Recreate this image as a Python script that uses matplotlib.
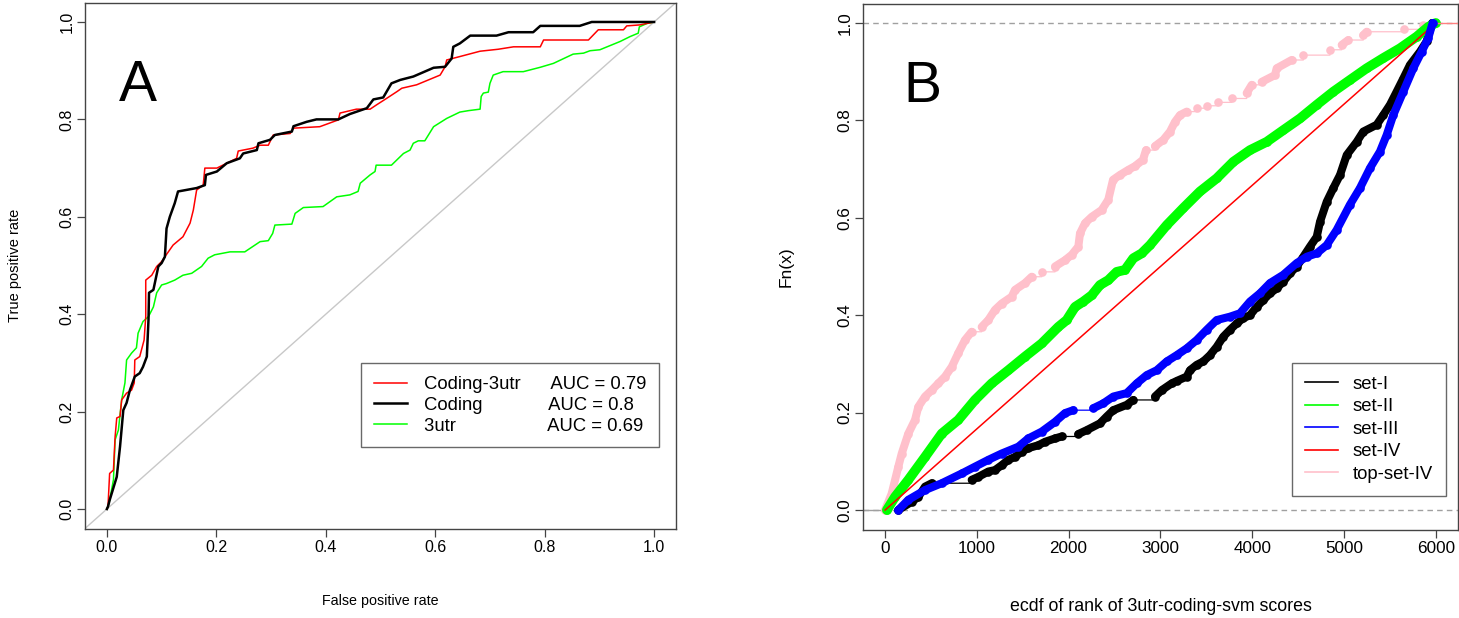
import numpy as np
import matplotlib
matplotlib.use("Agg")
import matplotlib.pyplot as plt
from matplotlib.lines import Line2D

plt.rcParams['font.family'] = ['Liberation Sans', 'DejaVu Sans']

# ---------------- Panel A data (ROC curves) ----------------
coding3utr_fpr = [0.0, 0.002, 0.005, 0.012, 0.015, 0.018, 0.024, 0.027, 0.036, 0.045, 0.050, 0.051, 0.060,
                  0.068, 0.071, 0.071, 0.082, 0.091, 0.100, 0.106, 0.121, 0.139, 0.152, 0.158, 0.164, 0.176,
                  0.179, 0.201, 0.219, 0.237, 0.240, 0.267, 0.280, 0.295, 0.304, 0.335, 0.341, 0.389, 0.423,
                  0.426, 0.456, 0.481, 0.493, 0.511, 0.530, 0.539, 0.566, 0.609, 0.618, 0.621, 0.645, 0.682,
                  0.715, 0.743, 0.792, 0.798, 0.880, 0.898, 0.944, 0.950, 0.974, 1.0]
coding3utr_tpr = [0.0, 0.005, 0.073, 0.080, 0.148, 0.187, 0.190, 0.224, 0.238, 0.244, 0.259, 0.306, 0.313,
                  0.347, 0.395, 0.470, 0.480, 0.498, 0.508, 0.518, 0.542, 0.559, 0.587, 0.614, 0.655, 0.665,
                  0.700, 0.700, 0.710, 0.720, 0.735, 0.741, 0.747, 0.747, 0.768, 0.771, 0.782, 0.785, 0.799,
                  0.813, 0.821, 0.821, 0.830, 0.843, 0.857, 0.864, 0.871, 0.891, 0.908, 0.922, 0.929, 0.940,
                  0.944, 0.949, 0.949, 0.963, 0.963, 0.984, 0.984, 0.992, 0.994, 1.0]

coding_fpr = [0.0, 0.002, 0.005, 0.018, 0.024, 0.030, 0.036, 0.042, 0.051, 0.060, 0.066, 0.073, 0.076,
              0.077, 0.085, 0.094, 0.100, 0.106, 0.109, 0.115, 0.124, 0.130, 0.164, 0.179, 0.181, 0.201,
              0.219, 0.243, 0.249, 0.274, 0.277, 0.298, 0.307, 0.338, 0.341, 0.365, 0.383, 0.423, 0.444,
              0.475, 0.487, 0.505, 0.520, 0.536, 0.560, 0.597, 0.618, 0.630, 0.633, 0.645, 0.664, 0.712,
              0.734, 0.779, 0.792, 0.864, 0.886, 1.0]
coding_tpr = [0.0, 0.005, 0.018, 0.066, 0.128, 0.203, 0.218, 0.244, 0.272, 0.279, 0.292, 0.313, 0.388,
              0.444, 0.450, 0.498, 0.505, 0.518, 0.576, 0.600, 0.628, 0.652, 0.659, 0.665, 0.686, 0.693,
              0.710, 0.720, 0.730, 0.737, 0.751, 0.758, 0.768, 0.775, 0.786, 0.795, 0.800, 0.800, 0.811,
              0.823, 0.841, 0.845, 0.874, 0.881, 0.888, 0.906, 0.908, 0.925, 0.949, 0.956, 0.972, 0.972,
              0.979, 0.979, 0.992, 0.992, 1.0, 1.0]

utr3_fpr = [0.0, 0.002, 0.005, 0.012, 0.015, 0.021, 0.027, 0.033, 0.036, 0.045, 0.054, 0.057, 0.066,
            0.076, 0.085, 0.091, 0.100, 0.109, 0.124, 0.139, 0.155, 0.173, 0.185, 0.197, 0.225, 0.252,
            0.280, 0.295, 0.303, 0.307, 0.338, 0.344, 0.359, 0.395, 0.420, 0.444, 0.459, 0.463, 0.481,
            0.490, 0.492, 0.520, 0.542, 0.554, 0.560, 0.569, 0.581, 0.597, 0.621, 0.645, 0.661, 0.682,
            0.684, 0.688, 0.697, 0.700, 0.706, 0.724, 0.761, 0.792, 0.816, 0.852, 0.871, 0.883, 0.901,
            0.938, 0.956, 0.971, 0.973, 0.987, 1.0]
utr3_tpr = [0.0, 0.005, 0.018, 0.060, 0.142, 0.162, 0.224, 0.259, 0.306, 0.320, 0.331, 0.361, 0.385,
            0.395, 0.415, 0.444, 0.460, 0.463, 0.470, 0.480, 0.484, 0.498, 0.515, 0.522, 0.528, 0.528,
            0.549, 0.551, 0.566, 0.583, 0.585, 0.607, 0.619, 0.621, 0.641, 0.645, 0.652, 0.669, 0.686,
            0.693, 0.706, 0.706, 0.730, 0.737, 0.751, 0.756, 0.756, 0.785, 0.802, 0.815, 0.818, 0.821,
            0.847, 0.854, 0.856, 0.874, 0.891, 0.898, 0.898, 0.907, 0.915, 0.934, 0.936, 0.941, 0.943,
            0.960, 0.970, 0.977, 0.990, 0.997, 1.0]

roc_labels = ["Coding-3utr      AUC = 0.79", "Coding             AUC = 0.8", "3utr                  AUC = 0.69"]

# ---------------- Panel B data (ecdf of ranks) ----------------
set1_x = [145, 291, 363, 436, 509, 944, 1016, 1125, 1198, 1271, 1343, 1416, 1489, 1561, 1670, 1743, 1852,
          1925, 2106, 2197, 2342, 2415, 2487, 2633, 2705, 2941, 3014, 3123, 3178, 3287, 3322, 3395, 3467,
          3540, 3613, 3686, 3758, 3831, 3903, 3976, 4049, 4121, 4194, 4267, 4339, 4412, 4485, 4557, 4630,
          4703, 4739, 4812, 4884, 4957, 5030, 5139, 5210, 5356, 5428, 5501, 5574, 5646, 5719, 5828, 5900,
          5960]
set1_y = [0.0, 0.017, 0.027, 0.048, 0.055, 0.062, 0.068, 0.079, 0.082, 0.092, 0.103, 0.109, 0.120, 0.127,
          0.133, 0.140, 0.147, 0.151, 0.156, 0.164, 0.178, 0.192, 0.205, 0.216, 0.226, 0.233, 0.246, 0.260,
          0.265, 0.274, 0.287, 0.298, 0.305, 0.318, 0.335, 0.356, 0.370, 0.383, 0.394, 0.400, 0.417, 0.431,
          0.445, 0.455, 0.469, 0.486, 0.500, 0.520, 0.541, 0.561, 0.592, 0.633, 0.661, 0.688, 0.729, 0.756,
          0.777, 0.791, 0.811, 0.832, 0.859, 0.886, 0.914, 0.941, 0.962, 1.0]

set2_x = [20, 109, 254, 436, 618, 798, 980, 1162, 1343, 1525, 1707, 1888, 1979, 2070, 2160, 2252, 2342,
          2432, 2524, 2614, 2705, 2796, 2887, 3069, 3249, 3431, 3613, 3794, 3976, 4158, 4339, 4521, 4703,
          4884, 5065, 5247, 5428, 5610, 5792, 5918, 6000]
set2_y = [0.0, 0.027, 0.062, 0.109, 0.157, 0.185, 0.226, 0.260, 0.287, 0.315, 0.342, 0.376, 0.390, 0.417,
          0.428, 0.441, 0.462, 0.472, 0.489, 0.493, 0.517, 0.527, 0.544, 0.585, 0.620, 0.654, 0.681, 0.715,
          0.739, 0.756, 0.780, 0.804, 0.832, 0.859, 0.883, 0.907, 0.928, 0.948, 0.972, 0.992, 1.0]

set3_x = [145, 254, 436, 618, 836, 980, 1125, 1271, 1452, 1561, 1707, 1852, 1961, 2051, 2269, 2378, 2487,
          2633, 2742, 2851, 2960, 3069, 3178, 3287, 3395, 3504, 3613, 3758, 3867, 3976, 4085, 4194, 4339,
          4485, 4594, 4703, 4812, 4920, 5065, 5174, 5283, 5392, 5465, 5537, 5646, 5755, 5846, 5918, 5966]
set3_y = [0.0, 0.021, 0.041, 0.055, 0.075, 0.089, 0.103, 0.116, 0.130, 0.147, 0.161, 0.181, 0.199, 0.205,
          0.209, 0.219, 0.233, 0.240, 0.260, 0.277, 0.287, 0.305, 0.318, 0.332, 0.349, 0.370, 0.390, 0.397,
          0.404, 0.428, 0.445, 0.466, 0.483, 0.507, 0.520, 0.527, 0.544, 0.575, 0.627, 0.661, 0.702, 0.736,
          0.770, 0.811, 0.859, 0.907, 0.941, 0.969, 1.0]

set4_x = [1, 6000]
set4_y = [0.0, 1.0]

top4_x = [0, 73, 145, 182, 254, 327, 363, 436, 509, 581, 654, 727, 798, 871, 944, 1053, 1125, 1198, 1271,
          1380, 1416, 1525, 1598, 1707, 1852, 1961, 2034, 2106, 2124, 2179, 2252, 2360, 2432, 2484, 2560,
          2647, 2723, 2810, 2843, 2941, 3032, 3105, 3159, 3214, 3287, 3395, 3504, 3631, 3777, 3940, 3995,
          4103, 4248, 4267, 4430, 4557, 4847, 4975, 5047, 5210, 5247, 5654, 5864, 5973]
top4_y = [0.0, 0.034, 0.089, 0.116, 0.157, 0.185, 0.212, 0.233, 0.246, 0.260, 0.274, 0.294, 0.322, 0.349,
          0.366, 0.376, 0.390, 0.411, 0.424, 0.438, 0.452, 0.466, 0.479, 0.489, 0.500, 0.513, 0.524, 0.541,
          0.568, 0.589, 0.602, 0.616, 0.637, 0.678, 0.688, 0.698, 0.706, 0.719, 0.739, 0.747, 0.760, 0.777,
          0.797, 0.811, 0.818, 0.825, 0.830, 0.837, 0.845, 0.856, 0.873, 0.879, 0.893, 0.907, 0.924, 0.934,
          0.945, 0.955, 0.965, 0.975, 0.982, 0.987, 0.996, 1.0]

set_labels = ["set-I", "set-II", "set-III", "set-IV", "top-set-IV"]

# ---------------- figure ----------------
W, H = 1459, 618
fig = plt.figure(figsize=(W / 100, H / 100), dpi=100)
axA = fig.add_axes([85 / W, 1 - 528.5 / H, 591 / W, 526 / H])
axB = fig.add_axes([863 / W, 1 - 529.5 / H, 595 / W, 526 / H])

FRAME = '#444444'
LEG_FS = 13.3

def style_axes(ax, tick_fs):
    for s in ax.spines.values():
        s.set_color(FRAME)
        s.set_linewidth(1.0)
    ax.tick_params(axis='both', direction='out', length=5.5, width=0.9, color=FRAME,
                   labelsize=tick_fs, pad=3)
    ax.tick_params(axis='y', labelrotation=90, pad=2)
    for lab in ax.get_yticklabels():
        lab.set_va('center')

# ----- Panel A -----
axA.plot([-0.04, 1.04], [-0.04, 1.04], color='#c8c8c8', lw=1.0, zorder=1)
axA.plot(coding3utr_fpr, coding3utr_tpr, color='#ff0000', lw=1.1, zorder=3)
axA.plot(coding_fpr, coding_tpr, color='black', lw=1.8, zorder=4)
axA.plot(utr3_fpr, utr3_tpr, color='#00ff00', lw=1.1, zorder=2)
axA.set_xlim(-0.04, 1.04)
axA.set_ylim(-0.04, 1.04)
axA.set_xticks([0.0, 0.2, 0.4, 0.6, 0.8, 1.0])
axA.set_yticks([0.0, 0.2, 0.4, 0.6, 0.8, 1.0])
axA.set_xticklabels(['0.0', '0.2', '0.4', '0.6', '0.8', '1.0'])
axA.set_yticklabels(['0.0', '0.2', '0.4', '0.6', '0.8', '1.0'])
style_axes(axA, 11.5)
axA.set_xlabel('False positive rate', fontsize=10.3, labelpad=28)
axA.set_ylabel('True positive rate', fontsize=10.5, labelpad=27)
axA.text(0.09, 0.842, 'A', transform=axA.transAxes, fontsize=41, ha='center', va='center')

hA = [Line2D([], [], color='#ff0000', lw=1.1),
      Line2D([], [], color='black', lw=1.8),
      Line2D([], [], color='#00ff00', lw=1.1)]
legA = axA.legend(hA, roc_labels, loc='lower right', bbox_to_anchor=(0.971, 0.154),
                  borderaxespad=0, fontsize=LEG_FS, frameon=True, fancybox=False,
                  edgecolor=FRAME, handlelength=1.8, handletextpad=0.9, labelspacing=0.2,
                  borderpad=0.7)
legA.get_frame().set_linewidth(1.0)

# ----- Panel B -----
def ecdf_series(ax, x, y, color, z, gap_dx=150, band_lw=5.8):
    x = np.asarray(x, float)
    y = np.asarray(y, float)
    # thin line: straight within dense runs, horizontal step across sparse gaps
    tx, ty = [x[0]], [y[0]]
    bx, by = [x[0]], [y[0]]
    for i in range(1, len(x)):
        gap = gap_dx is not None and (x[i] - x[i - 1]) > gap_dx and (y[i] - y[i - 1]) < 0.012
        if gap:
            tx.append(x[i]); ty.append(y[i - 1])
            bx.append(np.nan); by.append(np.nan)
        tx.append(x[i]); ty.append(y[i])
        bx.append(x[i]); by.append(y[i])
    ax.plot(tx, ty, color=color, lw=0.9, zorder=z)
    ax.plot(bx, by, color=color, lw=band_lw, solid_capstyle='round',
            solid_joinstyle='round', zorder=z)
    ax.plot(x, y, 'o', color=color, ms=6.2, mew=0, zorder=z)

axB.axhline(0, color='#a0a0a0', lw=1.0, ls=(0, (4, 3)), zorder=1)
axB.axhline(1, color='#a0a0a0', lw=1.0, ls=(0, (4, 3)), zorder=1)
ecdf_series(axB, top4_x, top4_y, '#ffc0cb', 2, gap_dx=95)
ecdf_series(axB, set1_x, set1_y, 'black', 3)
ecdf_series(axB, set2_x, set2_y, '#00ff00', 4, gap_dx=None, band_lw=7)
axB.plot(set4_x, set4_y, color='#ff0000', lw=1.1, zorder=5)
ecdf_series(axB, set3_x, set3_y, '#0000ff', 6)
axB.plot([set4_x[-1], 6300], [1, 1], color='#ff8080', lw=1.0, zorder=5)
axB.plot([-300, top4_x[0]], [0, 0], color='#a0a0a0', lw=1.0, zorder=1)

axB.set_xlim(-240, 6242)
axB.set_ylim(-0.04, 1.04)
axB.set_xticks([0, 1000, 2000, 3000, 4000, 5000, 6000])
axB.set_yticks([0.0, 0.2, 0.4, 0.6, 0.8, 1.0])
axB.set_yticklabels(['0.0', '0.2', '0.4', '0.6', '0.8', '1.0'])
style_axes(axB, 12.3)
axB.set_xlabel('ecdf of rank of 3utr-coding-svm scores', fontsize=12.8, labelpad=30)
axB.set_ylabel('Fn(x)', fontsize=12.5, labelpad=32)
axB.text(0.099, 0.842, 'B', transform=axB.transAxes, fontsize=41, ha='center', va='center')

hB = [Line2D([], [], color='black', lw=1.2),
      Line2D([], [], color='#00ff00', lw=1.2),
      Line2D([], [], color='#0000ff', lw=1.2),
      Line2D([], [], color='#ff0000', lw=1.2),
      Line2D([], [], color='#ffc0cb', lw=1.2)]
legB = axB.legend(hB, set_labels, loc='lower right', bbox_to_anchor=(0.980, 0.064),
                  borderaxespad=0, fontsize=LEG_FS, frameon=True, fancybox=False,
                  edgecolor=FRAME, handlelength=1.8, handletextpad=0.8, labelspacing=0.3,
                  borderpad=0.7)
legB.get_frame().set_linewidth(1.0)

fig.savefig('out.png', dpi=100)
